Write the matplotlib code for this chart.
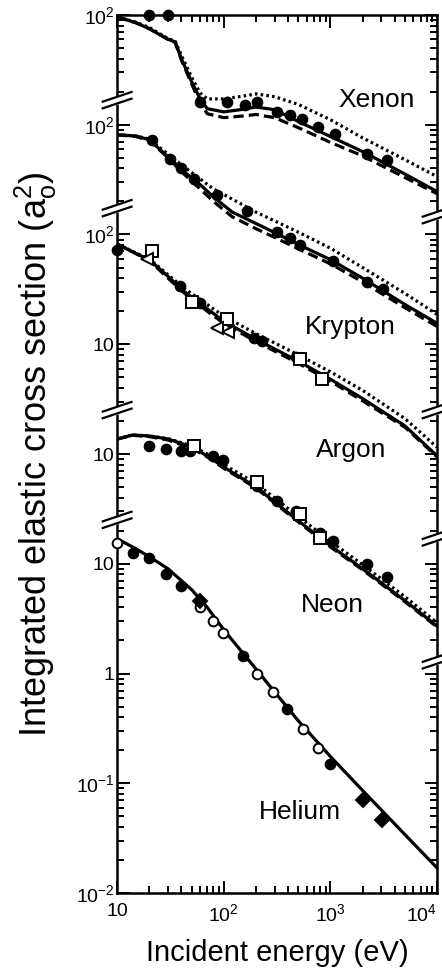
import numpy as np
import matplotlib
matplotlib.use('Agg')
from matplotlib import pyplot as plt
from matplotlib.ticker import FixedLocator, FixedFormatter, LogLocator, NullFormatter

plt.rcParams['font.family'] = ['Liberation Sans', 'DejaVu Sans']
plt.rcParams['mathtext.default'] = 'regular'

# each gas is shifted by whole decades on one common log axis
gases = ['Helium', 'Neon', 'Argon', 'Krypton', 'Xenon']
offsets = [1, 10, 100, 1e3, 1e4]

# --- Xenon (a0^2) ---
xe_E = [10, 15, 20, 30, 35, 40, 50, 60, 70, 100, 150, 200, 300, 500, 1000, 2000, 5000, 10000]
xe_solid = [96, 85, 75, 60, 57, 40, 24.5, 17.2, 14, 13.1, 13.8, 14.5, 13.7, 10.7, 7.8, 5.7, 3.55, 2.46]
xe_dash = [96, 85, 75, 60, 56, 39, 23.5, 15.8, 12.6, 11.6, 12.0, 12.4, 11.6, 9.4, 6.9, 5.2, 3.3, 2.35]
xe_dot = [96, 86, 77, 61, 58, 43, 27, 19.5, 17.2, 17.2, 18.2, 19.1, 18.0, 15.3, 11.1, 7.6, 4.8, 3.37]
xe_circ_E = [20, 30, 60, 107, 158, 205, 316, 418, 542, 766, 1100, 2190, 3380]
xe_circ = [100, 100, 16.2, 16.2, 15.1, 16.2, 13.1, 12.3, 11.3, 9.6, 8.3, 5.4, 4.8]

# --- Krypton ---
kr_E = [10, 15, 20, 30, 43, 60, 80, 120, 200, 300, 500, 1000, 2000, 5000, 10000]
kr_solid = [81, 79, 73, 51, 37, 28.5, 22, 16, 12.6, 10.4, 8.1, 5.9, 4.0, 2.3, 1.55]
kr_dash = [81, 78, 72, 50, 35, 26, 20, 14.5, 11.3, 9.4, 7.4, 5.4, 3.7, 2.15, 1.45]
kr_dot = [81, 79, 74, 54, 41, 32, 26, 21, 16, 13.3, 10.5, 7.5, 5.0, 2.9, 1.87]
kr_circ_E = [21, 31, 40, 52, 86, 165, 316, 418, 520, 1060, 2200, 3100]
kr_circ = [73, 49, 40, 32, 23, 16.2, 10.6, 9.2, 8.1, 5.7, 3.7, 3.2]

# --- Argon ---
ar_E = [10, 15, 20, 30, 43, 70, 100, 200, 500, 1000, 2000, 5000, 10000]
ar_solid = [82, 67, 59, 41.5, 30, 21, 16.2, 11.1, 7.0, 4.8, 3.2, 1.8, 0.96]
ar_dash = [82, 67, 58, 40, 29, 20, 15.5, 10.6, 6.7, 4.6, 3.05, 1.75, 0.94]
ar_dot = [82, 68, 60, 43, 32, 23, 18, 12.5, 8.0, 5.6, 3.8, 2.1, 1.15]
ar_circ_E = [10, 39, 60, 190, 230, 480]
ar_circ = [72, 33.6, 24, 11.3, 10.6, 7.6]
ar_sq_E = [21, 50, 107, 520, 840]
ar_sq = [70, 24.5, 16.9, 7.3, 4.8]
ar_tri_E = [19, 86, 110]
ar_tri = [60, 14, 13]

# --- Neon ---
ne_E = [10, 14, 20, 30, 50, 70, 100, 200, 500, 1000, 2000, 5000, 10000]
ne_solid = [13.7, 14.9, 14.6, 13.7, 11.6, 9.6, 7.6, 5.0, 2.46, 1.46, 0.90, 0.46, 0.27]
ne_dash = [13.7, 14.8, 14.4, 13.4, 11.3, 9.4, 7.4, 4.9, 2.4, 1.42, 0.88, 0.45, 0.265]
ne_dot = [13.7, 14.9, 14.6, 13.8, 11.9, 10.0, 8.0, 5.4, 2.7, 1.6, 0.98, 0.5, 0.29]
ne_circ_E = [20, 29, 39.5, 48, 80, 98, 205, 316, 480, 800, 1060, 2200, 3400]
ne_circ = [11.8, 11.1, 10.6, 10.6, 9.6, 8.9, 5.1, 3.7, 3.0, 1.9, 1.6, 1.0, 0.75]
ne_sq_E = [52, 205, 520, 800]
ne_sq = [11.8, 5.6, 2.85, 1.7]

# --- Helium ---
he_E = [10, 15, 20, 30, 50, 70, 100, 200, 500, 1000, 2000, 5000, 10000]
he_solid = [16.9, 13.7, 11.6, 9.0, 5.8, 4.0, 2.5, 1.1, 0.37, 0.175, 0.086, 0.034, 0.0169]
he_open_E = [10, 60, 80, 98, 205, 290, 550, 770]
he_open = [15.5, 4.0, 3.0, 2.35, 1.0, 0.68, 0.31, 0.21]
he_circ_E = [14, 20, 29, 40, 150, 390, 990]
he_circ = [12.6, 11.3, 8.1, 6.3, 1.45, 0.47, 0.15]
he_dia_E = [60, 2000, 3050]
he_dia = [4.6, 0.07, 0.046]

ytick_vals = [1e-2, 1e-1, 1, 10, 100, 1e3, 1e4, 1e5, 1e6]
ytick_labels = ['$10^{-2}$', '$10^{-1}$', '1', '10', '10', '10', '$10^{2}$', '$10^{2}$', '$10^{2}$']
xtick_vals = [10, 100, 1000, 10000]
xtick_labels = ['10', '$10^{2}$', '$10^{3}$', '$10^{4}$']

fig = plt.figure(figsize=(4.42, 9.73), dpi=100)
ax = fig.add_axes([0.265, 0.0822, 0.724, 0.9024])
ax.set_xscale('log')
ax.set_yscale('log')

LW = 2.3
def curves(E, solid, dash, dot, off):
    E = np.array(E)
    if dot is not None:
        ax.plot(E, np.array(dot) * off, color='black', lw=LW, ls=(0, (0.8, 1.0)))
    if dash is not None:
        ax.plot(E, np.array(dash) * off, color='black', lw=LW, ls=(0, (3.2, 1.6)))
    ax.plot(E, np.array(solid) * off, color='black', lw=LW, ls='-')

def marks(E, vals, off, marker, filled=True, ms=7):
    face = 'black' if filled else 'white'
    ax.plot(E, np.array(vals) * off, ls='none', marker=marker, ms=ms,
            mfc=face, mec='black', mew=1.4, clip_on=False, zorder=4)

off_he, off_ne, off_ar, off_kr, off_xe = offsets

curves(xe_E, xe_solid, xe_dash, xe_dot, off_xe)
marks(xe_circ_E, xe_circ, off_xe, 'o')

curves(kr_E, kr_solid, kr_dash, kr_dot, off_kr)
marks(kr_circ_E, kr_circ, off_kr, 'o')

curves(ar_E, ar_solid, ar_dash, ar_dot, off_ar)
marks(ar_circ_E, ar_circ, off_ar, 'o')
marks(ar_sq_E, ar_sq, off_ar, 's', filled=False, ms=8)
marks(ar_tri_E, ar_tri, off_ar, '<', filled=False, ms=9)

curves(ne_E, ne_solid, ne_dash, ne_dot, off_ne)
marks(ne_circ_E, ne_circ, off_ne, 'o')
marks(ne_sq_E, ne_sq, off_ne, 's', filled=False, ms=8)

curves(he_E, he_solid, None, None, off_he)
marks(he_open_E, he_open, off_he, 'o', filled=False)
marks(he_circ_E, he_circ, off_he, 'o')
marks(he_dia_E, he_dia, off_he, 'D', ms=7)

ax.set_xlim(10, 1e4)
ax.set_ylim(1e-2, 1e6)

ax.yaxis.set_major_locator(FixedLocator(ytick_vals))
ax.yaxis.set_major_formatter(FixedFormatter(ytick_labels))
ax.yaxis.set_minor_locator(LogLocator(base=10, subs=np.arange(2, 10), numticks=20))
ax.yaxis.set_minor_formatter(NullFormatter())
ax.xaxis.set_major_locator(FixedLocator(xtick_vals))
ax.xaxis.set_major_formatter(FixedFormatter(xtick_labels))
ax.xaxis.set_minor_locator(LogLocator(base=10, subs=np.arange(2, 10), numticks=20))
ax.xaxis.set_minor_formatter(NullFormatter())

ax.tick_params(which='both', direction='in', top=True, right=True, width=1.4)
ax.tick_params(which='major', length=9, labelsize=14)
ax.tick_params(which='minor', length=5)
ax.tick_params(axis='y', which='major', pad=2)
ax.tick_params(axis='x', which='major', pad=7)
for s in ax.spines.values():
    s.set_linewidth(1.8)

# last x label sits left of its tick so it stays in the picture
fig.canvas.draw()
ax.get_xticklabels()[-1].set_horizontalalignment('right')

ax.set_xlabel('Incident energy (eV)', fontsize=21, labelpad=10)
ax.set_ylabel('Integrated elastic cross section (a$_{o}^{2}$)', fontsize=26, labelpad=12)

# gas names
for name, xf, yf in [('Xenon', 0.81, 0.903), ('Krypton', 0.728, 0.645),
                     ('Argon', 0.731, 0.505), ('Neon', 0.672, 0.328),
                     ('Helium', 0.572, 0.092)]:
    ax.text(xf, yf, name, transform=ax.transAxes, ha='center', va='center', fontsize=19)

# axis break marks on both spines
def breakMark(xf, yf):
    dx, dy, gap = 0.045, 0.0055, 0.0038
    xs = np.array([xf - dx, xf + dx])
    ax.fill_between(xs, [yf - dy - gap, yf + dy - gap], [yf - dy + gap, yf + dy + gap],
                    color='white', transform=ax.transAxes, clip_on=False, zorder=5)
    for g in (-gap, gap):
        ax.plot(xs, [yf - dy + g, yf + dy + g], color='black', lw=1.6,
                transform=ax.transAxes, clip_on=False, zorder=6)

for yf in [0.903, 0.780, 0.550, 0.425]:
    breakMark(0.0, yf)
for yf in [0.772, 0.550, 0.405, 0.265]:
    breakMark(1.0, yf)

fig.savefig('out.png', dpi=100)
